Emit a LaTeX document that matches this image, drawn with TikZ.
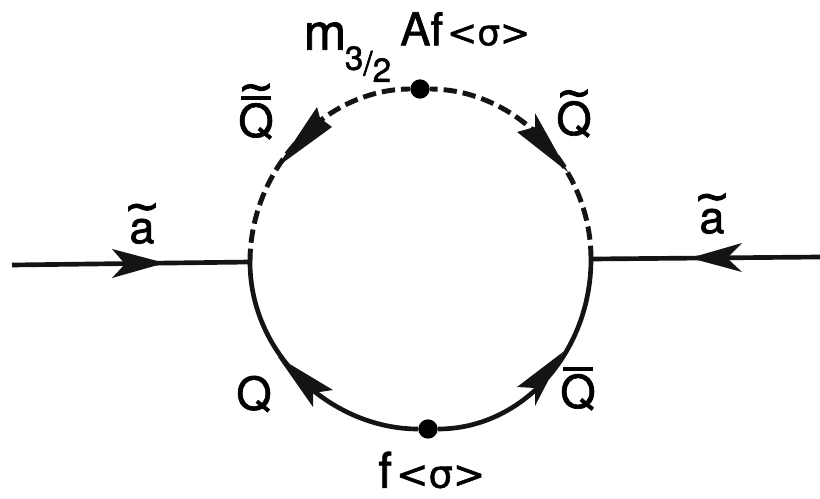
\documentclass[tikz,border=0pt]{standalone}
\usepackage{fontspec}
\setmainfont[FakeBold=1.4]{TeX Gyre Heros}
\newfontfamily\sigfont[FakeBold=1.2]{DejaVu Sans}
\newfontfamily\tildefont[FakeBold=2.5]{DejaVu Sans}
\tikzset{
 line/.style={line width=3.5pt,black!92},
 dashline/.style={line width=3.7pt,black!92,dash pattern=on 10pt off 4.5pt},
 tip/.style={fill=black!92,draw=none},
 vtx/.style={circle,fill=black,inner sep=0pt,minimum size=14.5pt},
 lab/.style={inner sep=0pt,font=\fontsize{34}{34}\selectfont},
 sublab/.style={inner sep=0pt,font=\fontsize{25}{25}\selectfont},
}
\newcommand{\sigterm}[1]{{\hspace{3pt}\sigfont\fontsize{#1}{#1}\selectfont<σ>}}
\newcommand{\tildeon}[2]{\ooalign{#1\cr\hidewidth\smash{\raisebox{#2}{\tildefont\fontsize{32}{32}\selectfont\char"007E}}\hidewidth\cr}}
\newcommand{\baron}[1]{\ooalign{#1\cr\hidewidth\raisebox{28pt}{\rule{22pt}{2.6pt}}\hidewidth\cr}}
\begin{document}
\begin{tikzpicture}[x=0.75pt,y=-0.75pt]
\useasboundingbox (0,0) rectangle (820,499);
\coordinate (L) at (250,262);
\coordinate (R) at (591,259);
\coordinate (LE) at (12,265);
\coordinate (RE) at (820,257);
\node[vtx] (T) at (420,89) {};
\node[vtx] (B) at (428,429) {};
\draw[line] (LE) -- (L);
\draw[line] (RE) -- (R);
\draw[dashline] (L) .. controls (250,168) and (326,89) .. (T);
\draw[dashline] (R) .. controls (591,165) and (514,89) .. (T);
\draw[line] (L) .. controls (250,356) and (333,429) .. (B);
\draw[line] (R) .. controls (591,353) and (522,429) .. (B);
\fill[tip] (165,263) -- (112,249) -- (125,264) -- (112,278) -- cycle;
\fill[tip] (690,258) -- (742,243) -- (727,258) -- (742,272) -- cycle;
\fill[tip] (277,167) -- (332,127) -- (320,118) -- (317,107) -- cycle;
\fill[tip] (568,172) -- (517,132) -- (535,127) -- (535,113) -- cycle;
\fill[tip] (278,357) -- (333,390) -- (313,393) -- (313,407) -- cycle;
\fill[tip] (563,352) -- (535,406) -- (535,388) -- (517,387) -- cycle;
\node[lab,font=\fontsize{38}{38}\selectfont] (m) at (325,36) {m};
\node[sublab] (frac) at (368,64) {\raisebox{4pt}{3}/\raisebox{-5pt}{2}};
\node[lab,anchor=west] (A) at (400,29) {Af\sigterm{27}};
\node[lab] (Q1) at (256,120) {\baron{\tildeon{Q}{27pt}}};
\node[lab] (Q2) at (574,118) {\tildeon{Q}{21pt}};
\node[lab] (a1) at (142,231) {\tildeon{a}{17pt}};
\node[lab] (a2) at (712,221) {\tildeon{a}{17pt}};
\node[lab] (Q3) at (254,394) {Q};
\node[lab] (Q4) at (578,391) {\baron{Q}};
\node[lab,anchor=west,font=\fontsize{37}{37}\selectfont] (f) at (378,470) {f\sigterm{29}};
\end{tikzpicture}
\end{document}
